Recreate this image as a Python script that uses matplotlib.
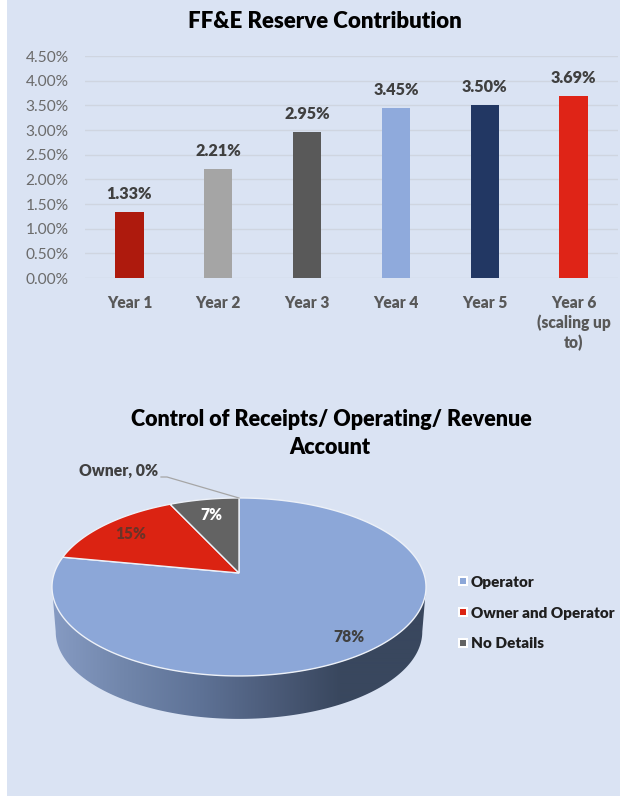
import matplotlib
matplotlib.use('Agg')
import matplotlib.pyplot as plt
import numpy as np
from matplotlib.lines import Line2D
from matplotlib.patches import Polygon, Rectangle

plt.rcParams['font.family'] = ['Lato', 'DejaVu Sans']

years = ['Year 1', 'Year 2', 'Year 3', 'Year 4', 'Year 5', 'Year 6\n(scaling up\nto)']
reserve = [1.33, 2.21, 2.95, 3.45, 3.50, 3.69]
bar_colors = ['#AE1A0D', '#A5A5A5', '#595959', '#8FAADC', '#223763', '#DF2417']
yticks = [0, 0.5, 1, 1.5, 2, 2.5, 3, 3.5, 4, 4.5]

slices = ['Operator', 'Owner and Operator', 'No Details', 'Owner']
shares = [78, 15, 7, 0]
slice_colors = ['#8CA7D8', '#DB2312', '#636363', '#A5A5A5']

W, H = 620, 796
BG = '#DAE3F3'
HEAVY = 800
fig = plt.figure(figsize=(6.2, 7.96), dpi=100, facecolor='white')

# whole figure in pixels, used for the background and the pie
page = fig.add_axes([0, 0, 1, 1])
page.set_xlim(0, W)
page.set_ylim(H, 0)
page.axis('off')
page.add_patch(Rectangle((7, 0), W - 7, H, color=BG, lw=0))

# bar chart
left, right, top, bottom = 85, 618, 56, 278
ax = fig.add_axes([left / W, 1 - bottom / H, (right - left) / W, (bottom - top) / H])
ax.patch.set_alpha(0)
x = np.arange(len(years))
ax.bar(x, reserve, width=0.32, color=bar_colors, zorder=3)
ax.set_xlim(-0.5, 5.5)
ax.set_ylim(0, 4.5)
ax.set_yticks(yticks)
ax.set_yticklabels(['%.2f%%' % t for t in yticks], fontsize=11.2, color='#6B6B6B')
ax.set_xticks(x)
ax.set_xticklabels(years, fontsize=11.2, color='#595959', fontweight=HEAVY, linespacing=1.25)
ax.tick_params(axis='both', length=0)
ax.tick_params(axis='x', pad=12.5)
ax.tick_params(axis='y', pad=11.7)
ax.grid(axis='y', color='#CFD5E0', lw=1, zorder=0)
for s in ax.spines.values():
    s.set_visible(False)
for i, v in zip(x, reserve):
    ax.annotate('%.2f%%' % v, (i, v), xytext=(0, 13), textcoords='offset points',
                ha='center', va='center', fontsize=11.7, fontweight=HEAVY, color='#404040')
page.text(325, 21, 'FF&E Reserve Contribution', ha='center', va='center',
          fontsize=16, fontweight=HEAVY, color='black')

# pie, a circle seen in perspective
cx, cy = 239, 573
R, A, K = 184.7, 86.8, 0.157
DEPTH, SHRINK = 45, 0.98


def project(t, f=1.0, scale=1.0, drop=0):
    d = 1 + K * f * np.sin(t)
    return (cx + scale * R * f * np.cos(t) / d,
            cy - scale * A * f * np.sin(t) / d + drop)


# side wall with a horizontal shade
t_side = np.radians(np.linspace(189, 351, 200))
tx, ty = project(t_side)
bx, by = project(t_side, scale=SHRINK, drop=DEPTH)
wall = Polygon(np.vstack([np.c_[tx, ty], np.c_[bx, by][::-1]]), closed=True,
               transform=page.transData, fc='none', ec='none')
page.add_patch(wall)
shade_x = [52, 120, 200, 270, 340, 426]
shade_rgb = np.array([[0x86, 0x9B, 0xC3], [0x72, 0x87, 0xAC], [0x5E, 0x72, 0x96],
                      [0x4C, 0x5C, 0x7A], [0x39, 0x47, 0x5E], [0x39, 0x47, 0x5E]]) / 255
px = np.arange(52, 427)
shade = np.stack([np.interp(px, shade_x, shade_rgb[:, c]) for c in range(3)], axis=-1)[None, :, :]
im = page.imshow(shade, extent=(52, 427, 725, 580), aspect='auto', interpolation='bilinear', zorder=2)
im.set_clip_path(wall)
page.set_xlim(0, W)
page.set_ylim(H, 0)

# top face, clockwise from twelve o'clock
start = 90.0
for share, col in zip(shares, slice_colors):
    end = start - share * 3.6
    if share > 0:
        t = np.radians(np.linspace(start, end, 200))
        ex, ey = project(t)
        page.fill(np.r_[cx, ex], np.r_[cy, ey], fc=col, ec='#EDF1F8', lw=1, zorder=4)
    start = end

# slice labels sit on the mid angle of each slice
label_colors = ['#404040', '#6B3328', 'white']
label_radius = [0.84, 0.8, 0.78]
start = 90.0
for share, col, f in zip(shares[:3], label_colors, label_radius):
    mid = np.radians(start - share * 1.8)
    lx, ly = project(mid, f=f)
    page.text(lx, ly + 1, '%d%%' % share, ha='center', va='center', fontsize=11.2,
              fontweight=HEAVY, color=col, zorder=5)
    start -= share * 3.6

page.plot([161, 167, 239], [477, 477, 498], color='#A6A6A6', lw=0.9, zorder=5)
page.text(158, 471, 'Owner, 0%', ha='right', va='center', fontsize=11.3,
          fontweight=HEAVY, color='#404040', zorder=5)

page.text(331, 419, 'Control of Receipts/ Operating/ Revenue', ha='center', va='center',
          fontsize=15.5, fontweight=HEAVY, color='black')
page.text(330, 447, 'Account', ha='center', va='center',
          fontsize=15.5, fontweight=HEAVY, color='black')

handles = [Line2D([], [], ls='none', marker='s', ms=5.75, mfc=c, mec='white', mew=1.45)
           for c in slice_colors[:3]]
leg = page.legend(handles, slices[:3], loc='center left', bbox_to_anchor=(455, 613),
                  bbox_transform=page.transData, frameon=False,
                  fontsize=11, labelspacing=1.17, handletextpad=0.05, handlelength=1.0,
                  borderpad=0, borderaxespad=0)
for txt in leg.get_texts():
    txt.set_fontweight(HEAVY)
    txt.set_color('#1F1F1F')

fig.savefig('out.png', dpi=100)
